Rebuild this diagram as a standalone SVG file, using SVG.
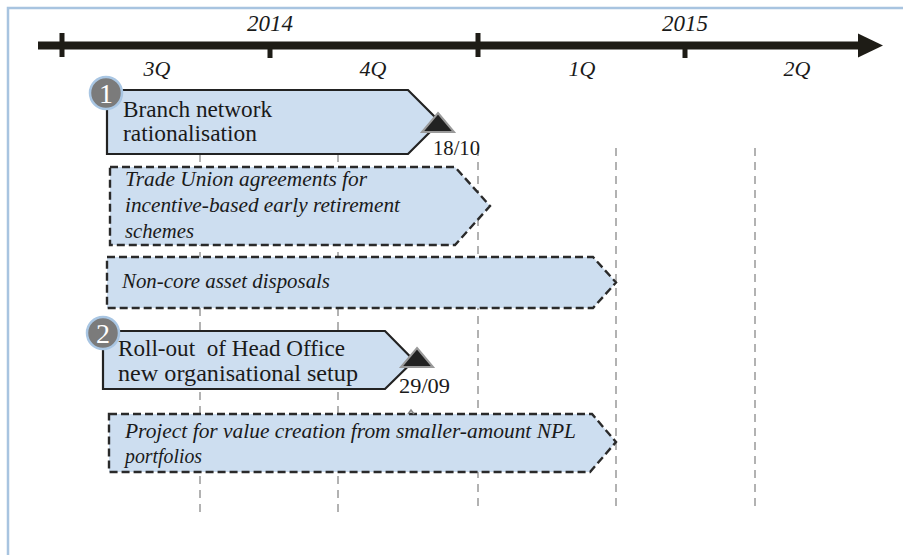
<svg xmlns="http://www.w3.org/2000/svg" width="903" height="555" viewBox="0 0 903 555">
<style>
.t{font-family:"Liberation Serif","Times New Roman",serif;fill:#1a1a1a}
.it{font-style:italic}
.solid{fill:#cddef0;stroke:#222;stroke-width:2.2;stroke-linejoin:miter}
.dash{fill:#cddef0;stroke:#2a2a2a;stroke-width:2.4;stroke-dasharray:8 4}
.grid{stroke:#999;stroke-width:1.5;stroke-dasharray:8 6;fill:none}
.badge{fill:#7b7b7b;stroke:#a9c6e3;stroke-width:2.5}
.bt{font-family:"Liberation Serif","Times New Roman",serif;fill:#fff;font-size:28px;text-anchor:middle}
.tri{fill:#222;stroke:#9a9a9a;stroke-width:2;stroke-linejoin:miter}
.ax{fill:#1e1c16}
</style>
<rect x="0" y="0" width="903" height="555" fill="#fff"/>
<g id="frame" fill="none" stroke="#a8c4e0" stroke-width="2.5">
<path d="M8 555 V8 H903"/>
</g>
<g id="grid-lines">
<line class="grid" x1="200" y1="154" x2="200" y2="512"/>
<line class="grid" x1="338" y1="154" x2="338" y2="512"/>
<line class="grid" x1="478" y1="148" x2="478" y2="512"/>
<line class="grid" x1="616" y1="148" x2="616" y2="512"/>
<line class="grid" x1="755" y1="148" x2="755" y2="512"/>
</g>
<g id="axis">
<rect class="ax" x="38" y="41.5" width="824" height="8"/>
<path class="ax" d="M858 33.5 L883 45.5 L858 57.5 Z"/>
<rect class="ax" x="59.5" y="33" width="5" height="24"/>
<rect class="ax" x="267.5" y="45" width="5" height="13"/>
<rect class="ax" x="475.5" y="33" width="5" height="24"/>
<rect class="ax" x="682.5" y="45" width="5" height="13"/>
<g class="t it" text-anchor="middle">
<text x="270" y="31" font-size="23">2014</text>
<text x="685" y="31" font-size="23">2015</text>
<text x="157" y="76" font-size="22">3Q</text>
<text x="373" y="76" font-size="22">4Q</text>
<text x="582" y="76" font-size="22">1Q</text>
<text x="797" y="76" font-size="22">2Q</text>
</g>
</g>
<g id="node1">
<path class="solid" d="M107 90 H408 L440 122 L408 154 H107 Z"/>
<text class="t" font-size="22.5" x="123" y="117" textLength="149" lengthAdjust="spacingAndGlyphs">Branch network</text>
<text class="t" font-size="22.5" x="123" y="141" textLength="134" lengthAdjust="spacingAndGlyphs">rationalisation</text>
<circle class="badge" cx="106" cy="93" r="16"/>
<text class="bt" x="106" y="103">1</text>
<path class="tri" d="M438 113 L454 132 L422 132 Z"/>
<text class="t" font-size="21" x="433" y="155" textLength="47" lengthAdjust="spacingAndGlyphs">18/10</text>
</g>
<g id="node2">
<path class="dash" d="M110 167 H455 L490 206 L455 245 H110 Z"/>
<g class="t it" font-size="21.5">
<text x="125" y="186" textLength="242" lengthAdjust="spacingAndGlyphs">Trade Union agreements for</text>
<text x="125" y="212" textLength="275" lengthAdjust="spacingAndGlyphs">incentive-based early retirement</text>
<text x="125" y="238" textLength="69" lengthAdjust="spacingAndGlyphs">schemes</text>
</g>
</g>
<g id="node3">
<path class="dash" d="M107 257 H593 L616 282.5 L593 308 H107 Z"/>
<text class="t it" font-size="21.5" x="122" y="288" textLength="208" lengthAdjust="spacingAndGlyphs">Non-core asset disposals</text>
</g>
<g id="node4">
<path class="solid" d="M103 331 H385 L414 360.5 L385 389 H103 Z"/>
<text class="t" font-size="22.5" x="118" y="356" textLength="227" lengthAdjust="spacingAndGlyphs">Roll-out&#160; of Head Office</text>
<text class="t" font-size="22.5" x="118" y="381" textLength="240" lengthAdjust="spacingAndGlyphs">new organisational setup</text>
<circle class="badge" cx="103" cy="333" r="16"/>
<text class="bt" x="103" y="343">2</text>
<path class="tri" d="M417 348 L433 367 L401 367 Z"/>
<text class="t" font-size="21" x="399" y="393" textLength="51" lengthAdjust="spacingAndGlyphs">29/09</text>
</g>
<g id="node5">
<path class="dash" d="M109 414 H592 L616 442 L590 472 H109 Z"/>
<path d="M408 414 L411 410 L414 414" fill="none" stroke="#888" stroke-width="1.5"/>
<g class="t it" font-size="21.5">
<text x="125" y="438" textLength="451" lengthAdjust="spacingAndGlyphs">Project for value creation from smaller-amount NPL</text>
<text x="125" y="463" textLength="77" lengthAdjust="spacingAndGlyphs">portfolios</text>
</g>
</g>
</svg>
